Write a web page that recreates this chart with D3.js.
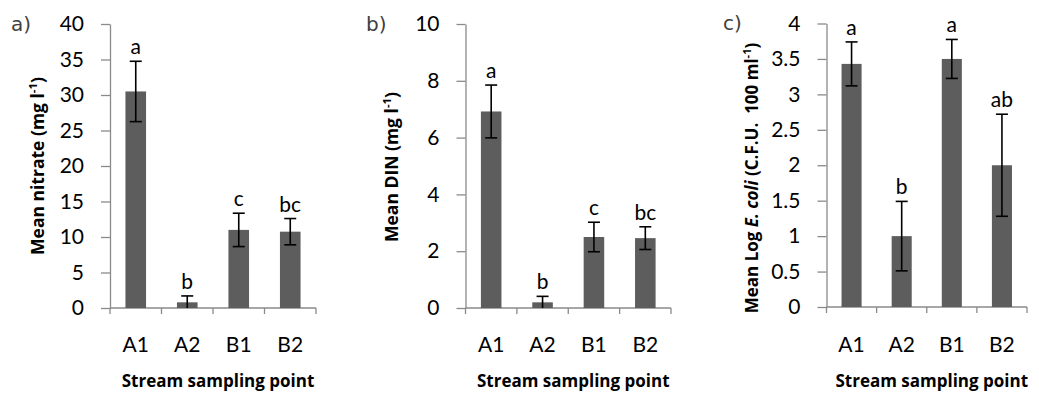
<!DOCTYPE html>
<html>
<head>
<meta charset="utf-8">
<script src="https://cdn.jsdelivr.net/npm/d3@7"></script>
<style>
  html, body { margin: 0; padding: 0; background: #fff; }
  svg { display: block; }
</style>
</head>
<body>
<svg id="chart" width="1039" height="394"></svg>
<script>
// Sampling points along the stream
const categories = ["A1", "A2", "B1", "B2"];

// a) nitrate (mg l-1)
const nitrateMean = [30.5, 0.8, 11.0, 10.75];
const nitrateErr = [4.25, 0.9, 2.35, 1.85];
const nitrateGroups = ["a", "b", "c", "bc"];
const nitrateTicks = [0, 5, 10, 15, 20, 25, 30, 35, 40];

// b) dissolved inorganic nitrogen (mg l-1)
const dinMean = [6.92, 0.2, 2.5, 2.46];
const dinErr = [0.93, 0.21, 0.52, 0.40];
const dinGroups = ["a", "b", "c", "bc"];
const dinTicks = [0, 2, 4, 6, 8, 10];

// c) log E. coli (C.F.U. 100 ml-1)
const ecoliMean = [3.43, 1.0, 3.5, 2.0];
const ecoliErr = [0.31, 0.49, 0.275, 0.72];
const ecoliGroups = ["a", "b", "a", "ab"];
const ecoliTicks = [0, 0.5, 1, 1.5, 2, 2.5, 3, 3.5, 4];

const xTitle = "Stream sampling point";

const svg = d3.select("#chart");
const bodyFont = "Lato, 'Open Sans', sans-serif";
const titleFont = "'Open Sans', Lato, sans-serif";
const tagFont = "'DejaVu Sans', sans-serif";
const tickSize = 21;

const panels = [
  {
    tag: "a)", tagX: 11, tagY: 31,
    mean: nitrateMean, err: nitrateErr, groups: nitrateGroups, ticks: nitrateTicks,
    fmt: d3.format("d"),
    x0: 110, x1: 316, top: 24, bottom: 308,
    yLabelX: 44, yLabelY: 166, yLabelSize: 17.5,
    yLabel: [{t: "Mean nitrate (mg l"}, {t: "-1", sup: true}, {t: ")"}]
  },
  {
    tag: "b)", tagX: 366, tagY: 31,
    mean: dinMean, err: dinErr, groups: dinGroups, ticks: dinTicks,
    fmt: d3.format("d"),
    x0: 465.5, x1: 671, top: 24, bottom: 308,
    yLabelX: 398, yLabelY: 167, yLabelSize: 17.5,
    yLabel: [{t: "Mean DIN (mg l"}, {t: "-1", sup: true}, {t: ")"}]
  },
  {
    tag: "c)", tagX: 723, tagY: 30,
    mean: ecoliMean, err: ecoliErr, groups: ecoliGroups, ticks: ecoliTicks,
    fmt: d => String(d),
    x0: 826.5, x1: 1027, top: 23.5, bottom: 307,
    yLabelX: 758, yLabelY: 178, yLabelSize: 17,
    yLabel: [{t: "Mean Log "}, {t: "E. coli", it: true}, {t: " (C.F.U.\u00a0 100 ml"}, {t: "-1", sup: true}, {t: ")"}]
  }
];

panels.forEach(p => {
  const g = svg.append("g");
  const yMax = p.ticks[p.ticks.length - 1];

  const x = d3.scaleBand()
    .domain(categories)
    .range([p.x0, p.x1])
    .paddingInner(0.6)
    .paddingOuter(0.3);
  const y = d3.scaleLinear().domain([0, yMax]).range([p.bottom, p.top]);
  const step = x.step();

  // y axis
  const yAxis = d3.axisLeft(y)
    .tickValues(p.ticks)
    .tickFormat(p.fmt)
    .tickSize(9)
    .tickSizeOuter(0)
    .tickPadding(17);
  const ya = g.append("g")
    .attr("transform", `translate(${p.x0},0)`)
    .call(yAxis);
  ya.select(".domain").attr("stroke", "#8a8a8a").attr("stroke-width", 1.3);
  ya.selectAll(".tick line").attr("stroke", "#8a8a8a").attr("stroke-width", 1.3);
  ya.selectAll(".tick text")
    .style("font-family", bodyFont)
    .style("font-size", tickSize + "px")
    .attr("fill", "#000");

  // x axis: ticks sit on category boundaries
  const boundaries = categories.map(c => x(c) - step * 0.3).concat([p.x1]);
  g.append("line")
    .attr("x1", p.x0).attr("x2", p.x1)
    .attr("y1", y(0)).attr("y2", y(0))
    .attr("stroke", "#8a8a8a").attr("stroke-width", 1.3);
  g.selectAll(".xtick").data(boundaries).join("line")
    .attr("x1", d => d).attr("x2", d => d)
    .attr("y1", y(0)).attr("y2", y(0) + 6)
    .attr("stroke", "#8a8a8a").attr("stroke-width", 1.3);
  g.selectAll(".xlab").data(categories).join("text")
    .attr("x", c => x(c) + x.bandwidth() / 2)
    .attr("y", 352)
    .attr("text-anchor", "middle")
    .style("font-family", bodyFont)
    .style("font-size", tickSize + "px")
    .text(c => c);

  // bars
  g.selectAll(".bar").data(categories).join("rect")
    .attr("x", c => x(c))
    .attr("width", x.bandwidth())
    .attr("y", (c, i) => y(p.mean[i]))
    .attr("height", (c, i) => y(0) - y(p.mean[i]))
    .attr("fill", "#5d5d5d");

  // error bars (lower end clipped at zero)
  const capW = 12;
  categories.forEach((c, i) => {
    const cx = x(c) + x.bandwidth() / 2;
    const hi = p.mean[i] + p.err[i];
    const lo = Math.max(0, p.mean[i] - p.err[i]);
    const eg = g.append("g").attr("stroke", "#000").attr("stroke-width", 1.6);
    eg.append("line").attr("x1", cx).attr("x2", cx).attr("y1", y(hi)).attr("y2", y(lo));
    eg.append("line").attr("x1", cx - capW / 2).attr("x2", cx + capW / 2).attr("y1", y(hi)).attr("y2", y(hi));
    if (p.mean[i] - p.err[i] > 0) {
      eg.append("line").attr("x1", cx - capW / 2).attr("x2", cx + capW / 2).attr("y1", y(lo)).attr("y2", y(lo));
    }
    // significance group letters
    g.append("text")
      .attr("x", cx)
      .attr("y", y(hi) - 7)
      .attr("text-anchor", "middle")
      .style("font-family", bodyFont)
      .style("font-size", tickSize + "px")
      .text(p.groups[i]);
  });

  // y axis title
  const yt = g.append("text")
    .attr("transform", `translate(${p.yLabelX},${p.yLabelY}) rotate(-90)`)
    .attr("text-anchor", "middle")
    .style("font-family", titleFont)
    .style("font-size", p.yLabelSize + "px")
    .style("font-weight", "bold");
  p.yLabel.forEach((part, i) => {
    const ts = yt.append("tspan").text(part.t);
    if (part.sup) ts.style("font-size", (p.yLabelSize * 0.65) + "px").attr("dy", -7);
    if (part.it) ts.style("font-style", "italic");
    const prev = p.yLabel[i - 1];
    if (prev && prev.sup) ts.attr("dy", 7);
  });

  // x axis title
  g.append("text")
    .attr("x", (p.x0 + p.x1) / 2 + 5)
    .attr("y", 387)
    .attr("text-anchor", "middle")
    .style("font-family", titleFont)
    .style("font-size", "17px")
    .style("font-weight", "bold")
    .text(xTitle);

  // panel tag
  g.append("text")
    .attr("x", p.tagX)
    .attr("y", p.tagY)
    .style("font-family", tagFont)
    .style("font-size", "20px")
    .style("fill", "#404040")
    .text(p.tag);
});
</script>
</body>
</html>
